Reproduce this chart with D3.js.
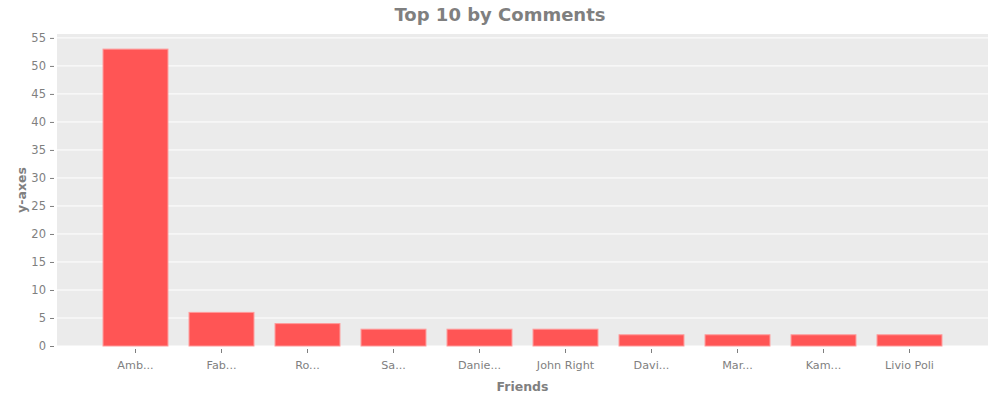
<!DOCTYPE html>
<html>
<head>
<meta charset="utf-8">
<script src="https://cdn.jsdelivr.net/npm/d3@7"></script>
<style>
  body { margin: 0; background: #fff; }
  text { font-family: Verdana, "DejaVu Sans", sans-serif; }
</style>
</head>
<body>
<script>
// Chart data
var friends = ["Amb...", "Fab...", "Ro...", "Sa...", "Danie...", "John Right", "Davi...", "Mar...", "Kam...", "Livio Poli"];
var comments = [53, 6, 4, 3, 3, 3, 2, 2, 2, 2];
var yTicks = [0, 5, 10, 15, 20, 25, 30, 35, 40, 45, 50, 55];

var svgWidth = 1000;
var svgHeight = 400;

var margin = { top: 34, right: 12, bottom: 54, left: 57 };
var width = svgWidth - margin.left - margin.right;
var height = svgHeight - margin.top - margin.bottom;

var svg = d3.select("body")
  .append("svg")
  .attr("width", svgWidth)
  .attr("height", svgHeight);

var chartGroup = svg.append("g")
  .attr("transform", `translate(${margin.left}, ${margin.top})`);

// plot background
chartGroup.append("rect")
  .attr("width", width)
  .attr("height", height)
  .attr("fill", "#ebebeb");

var xScale = d3.scaleBand()
  .domain(friends)
  .range([35.5, 895.5])
  .paddingInner(0.245)
  .paddingOuter(0.1225);

var yScale = d3.scaleLinear()
  .domain([0, 55.7])
  .range([height, 0]);

// gridlines
chartGroup.selectAll(".grid")
  .data(yTicks)
  .enter()
  .append("line")
  .attr("x1", 0)
  .attr("x2", width)
  .attr("y1", d => yScale(d))
  .attr("y2", d => yScale(d))
  .attr("stroke", "#fff")
  .attr("stroke-width", 1);

// bars
chartGroup.selectAll(".bar")
  .data(comments)
  .enter()
  .append("rect")
  .attr("x", (d, i) => xScale(friends[i]))
  .attr("y", d => yScale(d))
  .attr("width", xScale.bandwidth())
  .attr("height", d => height - yScale(d))
  .attr("fill", "#ff5555")
  .attr("stroke", "#ff9a9a")
  .attr("stroke-width", 1);

// y axis
var leftAxis = d3.axisLeft(yScale)
  .tickValues(yTicks)
  .tickSize(4)
  .tickPadding(4);

var yAxis = chartGroup.append("g")
  .attr("transform", "translate(-3,0)")
  .call(leftAxis);
yAxis.select(".domain").remove();
yAxis.selectAll("line").attr("stroke", "#7f7f7f");
yAxis.selectAll("text")
  .attr("fill", "#7f7f7f")
  .attr("font-size", "11.5px");

// x axis
var bottomAxis = d3.axisBottom(xScale)
  .tickSize(4)
  .tickPadding(8);

var xAxis = chartGroup.append("g")
  .attr("transform", `translate(0, ${height + 3})`)
  .call(bottomAxis);
xAxis.select(".domain").remove();
xAxis.selectAll("line").attr("stroke", "#7f7f7f");
xAxis.selectAll("text")
  .attr("fill", "#7f7f7f")
  .attr("font-size", "11.2px");

// title
svg.append("text")
  .attr("x", 500)
  .attr("y", 21)
  .attr("text-anchor", "middle")
  .attr("font-size", "18px")
  .attr("font-weight", "bold")
  .attr("fill", "#7f7f7f")
  .text("Top 10 by Comments");

// axis labels
svg.append("text")
  .attr("x", margin.left + width / 2)
  .attr("y", 391)
  .attr("text-anchor", "middle")
  .attr("font-size", "12.5px")
  .attr("font-weight", "bold")
  .attr("fill", "#7f7f7f")
  .text("Friends");

svg.append("text")
  .attr("transform", "rotate(-90)")
  .attr("x", -(margin.top + height / 2))
  .attr("y", 26)
  .attr("text-anchor", "middle")
  .attr("font-size", "12.5px")
  .attr("font-weight", "bold")
  .attr("fill", "#7f7f7f")
  .text("y-axes");
</script>
</body>
</html>
